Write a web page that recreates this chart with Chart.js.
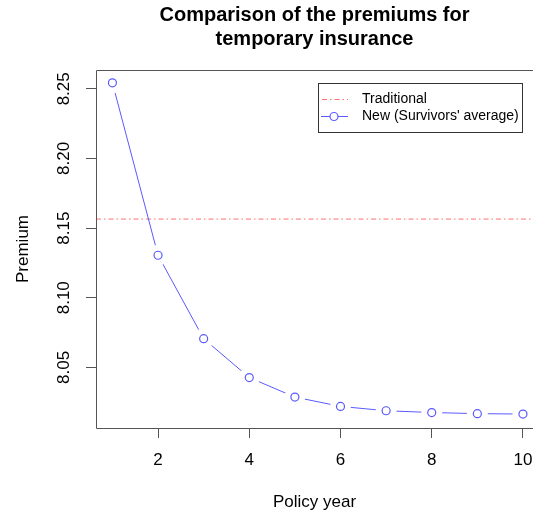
<!DOCTYPE html>
<html>
<head>
<meta charset="utf-8">
<script src="https://cdn.jsdelivr.net/npm/chart.js@4/dist/chart.umd.min.js"></script>
<style>
html,body{margin:0;padding:0;background:#fff;overflow:hidden;}
canvas{display:block;}
</style>
</head>
<body>
<canvas id="c" width="533" height="516"></canvas>
<script>
// ---- data ----
const policyYears = [1, 2, 3, 4, 5, 6, 7, 8, 9, 10];
const newPremiums = [8.2543, 8.1305, 8.0706, 8.0427, 8.0287, 8.0220, 8.0189, 8.0176, 8.0168, 8.0165];
const traditionalPremium = 8.1565;
const xTicks = [2, 4, 6, 8, 10];
const yTicks = [8.05, 8.10, 8.15, 8.20, 8.25];
const xLimits = [0.64, 10.22];
const yLimits = [8.0065, 8.2635];
const titleLines = ['Comparison of the premiums for', 'temporary insurance'];
const seriesNames = ['Traditional', "New (Survivors' average)"];

const FONT = 'Liberation Sans, Arial, Helvetica, sans-serif';
const RED = '#FF6E6E';
const BLUE = '#5A5AFF';
Chart.defaults.color = '#000';
Chart.defaults.font.family = FONT;

const makePts = () => policyYears.map((x, i) => ({x: x, y: newPremiums[i]}));

const boxPlugin = {
  id: 'box',
  afterDatasetsDraw(chart) {
    const {ctx, chartArea: a} = chart;
    const l = Math.round(a.left) + 0.5, t = Math.round(a.top) + 0.5, b = Math.round(a.bottom) + 0.5;
    ctx.save();
    ctx.strokeStyle = '#555';
    ctx.lineWidth = 1;
    ctx.beginPath();
    ctx.moveTo(chart.width, t); ctx.lineTo(l, t); ctx.lineTo(l, b); ctx.lineTo(chart.width, b);
    ctx.stroke();
    ctx.restore();
  }
};

const legendPlugin = {
  id: 'boxLegend',
  afterDraw(chart) {
    const {ctx, chartArea: a} = chart;
    const right = a.right - 11, top = a.top + 13;
    const left = right - 204, bottom = top + 49;
    ctx.save();
    ctx.fillStyle = '#fff';
    ctx.fillRect(left, top, right - left, bottom - top);
    ctx.strokeStyle = '#333';
    ctx.lineWidth = 1;
    ctx.strokeRect(left + 0.5, top + 0.5, right - left, bottom - top);
    const rows = [top + 16.5, top + 33.5];
    ctx.strokeStyle = RED;
    ctx.setLineDash([5, 3, 1.5, 3]);
    ctx.beginPath(); ctx.moveTo(left + 4, rows[0]); ctx.lineTo(left + 30, rows[0]); ctx.stroke();
    ctx.setLineDash([]);
    ctx.strokeStyle = BLUE;
    ctx.beginPath(); ctx.moveTo(left + 3, rows[1]); ctx.lineTo(left + 30, rows[1]); ctx.stroke();
    ctx.fillStyle = '#fff';
    ctx.lineWidth = 1.2;
    ctx.beginPath(); ctx.arc(left + 16, rows[1], 4, 0, Math.PI * 2); ctx.fill(); ctx.stroke();
    ctx.fillStyle = '#000';
    ctx.font = '14px ' + FONT;
    ctx.textBaseline = 'middle';
    ctx.textAlign = 'left';
    ctx.fillText(seriesNames[0], left + 44, rows[0]);
    ctx.fillText(seriesNames[1], left + 44, rows[1]);
    ctx.restore();
  }
};

new Chart(document.getElementById('c'), {
  type: 'line',
  data: {
    datasets: [
      {
        label: seriesNames[0],
        data: [{x: xLimits[0], y: traditionalPremium}, {x: xLimits[1], y: traditionalPremium}],
        borderColor: RED, borderWidth: 1, borderDash: [5, 3, 1.5, 3],
        pointRadius: 0, fill: false, order: 5
      },
      {
        label: seriesNames[1],
        data: makePts(),
        borderColor: BLUE, borderWidth: 1, tension: 0,
        pointRadius: 0, fill: false, order: 4
      },
      {
        label: 'gap',
        data: makePts(),
        showLine: false,
        pointRadius: 10.5, pointBorderWidth: 0,
        pointBackgroundColor: '#ffffff', pointBorderColor: '#ffffff', order: 3
      },
      {
        label: 'points',
        data: makePts(),
        showLine: false,
        pointRadius: 4, pointBorderWidth: 1.2,
        pointBackgroundColor: '#ffffff', pointBorderColor: BLUE, order: 2
      }
    ]
  },
  options: {
    responsive: false,
    animation: false,
    devicePixelRatio: 1,
    events: [],
    layout: {padding: 0, autoPadding: false},
    plugins: {
      legend: {display: false},
      tooltip: {enabled: false},
      title: {
        display: true,
        fullSize: false,
        text: titleLines,
        color: '#000',
        font: {family: FONT, size: 20, weight: 'bold', lineHeight: 1.2},
        padding: {top: 3, bottom: 19}
      }
    },
    scales: {
      x: {
        type: 'linear', position: 'bottom',
        min: xLimits[0], max: xLimits[1],
        afterBuildTicks: s => { s.ticks = xTicks.map(v => ({value: v})); },
        afterFit: s => { s.height = 88; s.paddingLeft = 0; s.paddingRight = 0; },
        ticks: {
          autoSkip: false, maxRotation: 0, padding: 0,
          font: {size: 17, lineHeight: 2.6}, color: '#000',
          callback: v => String(v)
        },
        grid: {drawOnChartArea: false, drawTicks: true, tickLength: 10, tickColor: '#555', tickWidth: 1},
        border: {display: false},
        title: {display: true, text: 'Policy year', font: {size: 17}, color: '#000', padding: {top: 0, bottom: 3}}
      },
      y: {
        type: 'linear', position: 'left',
        min: yLimits[0], max: yLimits[1],
        afterBuildTicks: s => { s.ticks = yTicks.map(v => ({value: v})); },
        afterFit: s => { s.width = 96; s.paddingTop = 0; s.paddingBottom = 0; },
        ticks: {
          autoSkip: false, minRotation: 90, maxRotation: 90, crossAlign: 'center', padding: 5,
          font: {size: 17}, color: '#000',
          callback: v => Number(v).toFixed(2)
        },
        grid: {drawOnChartArea: false, drawTicks: true, tickLength: 10, tickColor: '#555', tickWidth: 1},
        border: {display: false},
        title: {display: true, text: 'Premium', font: {size: 17}, color: '#000', padding: {top: 13, bottom: 0}}
      }
    }
  },
  plugins: [boxPlugin, legendPlugin]
});
</script>
</body>
</html>
